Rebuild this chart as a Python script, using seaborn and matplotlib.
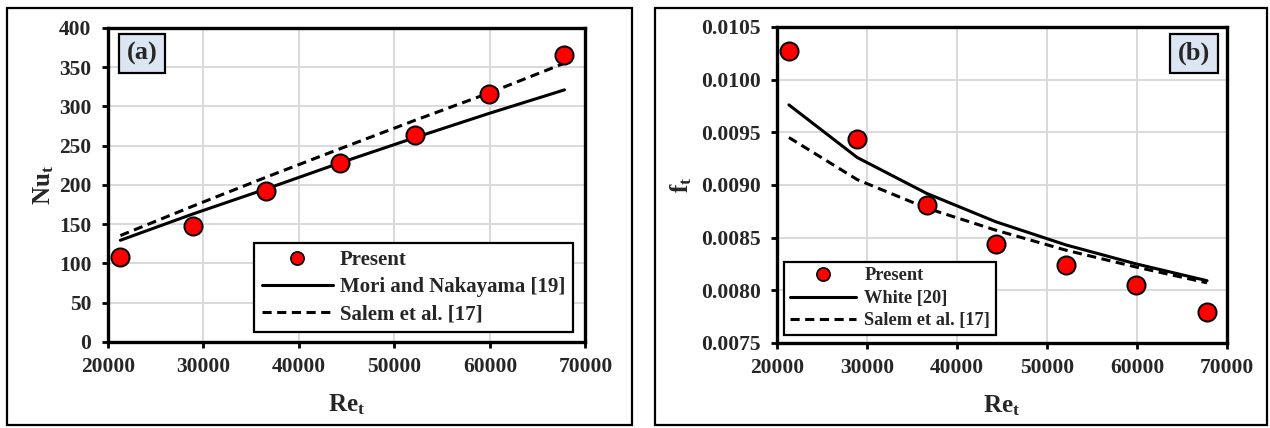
import numpy as np
import pandas as pd
import matplotlib
matplotlib.use("Agg")
import matplotlib.pyplot as plt
import seaborn as sns
from matplotlib.patches import Rectangle
from matplotlib.lines import Line2D

# data
re_t = [21300, 28900, 36600, 44300, 52100, 59900, 67800]

nu_present = [108, 148, 192, 228, 264, 316, 365]
nu_mori = [129.5, 163, 195, 228, 260, 291, 321]
nu_salem = [135.5, 173, 210, 246, 282, 317, 355]

f_present = [0.01027, 0.00944, 0.00881, 0.00844, 0.00824, 0.00805, 0.00779]
f_white = [0.00976, 0.00926, 0.00892, 0.00865, 0.00843, 0.00825, 0.00809]
f_salem = [0.00945, 0.00905, 0.00878, 0.00857, 0.00838, 0.00822, 0.00807]

sns.set_style("whitegrid")
plt.rcParams['font.family'] = ['Liberation Serif', 'DejaVu Serif']
plt.rcParams['font.weight'] = 'bold'
plt.rcParams['mathtext.fontset'] = 'custom'
plt.rcParams['mathtext.rm'] = 'Liberation Serif:bold'
plt.rcParams['mathtext.it'] = 'Liberation Serif:bold'
plt.rcParams['mathtext.bf'] = 'Liberation Serif:bold'

fig = plt.figure(figsize=(12.7, 4.28), dpi=100)
ax1 = fig.add_axes([0.085, 0.201, 0.376, 0.734])
ax2 = fig.add_axes([0.612, 0.199, 0.354, 0.738])

# panel frames
for x0, x1 in [(0.0055, 0.4976), (0.5157, 0.9976)]:
    fig.patches.append(Rectangle((x0, 0.007), x1 - x0, 0.974, transform=fig.transFigure,
                                 fill=False, edgecolor='black', linewidth=1.6))

dash = (0, (3, 1.8))


def style_axis(ax, letter, lx, ly, ypad):
    ax.set_xlim(20000, 70000)
    ax.set_xticks(np.arange(20000, 70001, 10000))
    ax.grid(True, color='#d9d9d9', linewidth=1.4)
    ax.set_axisbelow(True)
    for s in ax.spines.values():
        s.set_color('black')
        s.set_linewidth(2.4)
    ax.tick_params(axis='both', direction='out', length=4, width=2, color='black',
                   labelsize=15.5, left=True, bottom=True)
    ax.tick_params(axis='x', pad=7)
    ax.tick_params(axis='y', pad=8)
    for lab in ax.get_xticklabels() + ax.get_yticklabels():
        lab.set_fontweight('bold')
    ax.set_xlabel('Re$_\\mathrm{t}$', fontsize=18, fontweight='bold', labelpad=11)
    ax.yaxis.labelpad = ypad
    ax.text(lx, ly, letter, transform=ax.transAxes, fontsize=19, fontweight='bold',
            ha='center', va='center',
            bbox=dict(boxstyle='square,pad=0.3', facecolor='#dce6f2', edgecolor='black', linewidth=1.6))


def legend_handles():
    return [Line2D([], [], marker='o', color='none', markerfacecolor='#ff0000', markeredgecolor='black',
                   markersize=9.5, markeredgewidth=1.2),
            Line2D([], [], color='black', linewidth=2.2),
            Line2D([], [], color='black', linewidth=2.2, linestyle=dash)]


# (a) Nusselt number
sns.lineplot(x=re_t, y=nu_mori, ax=ax1, color='black', linewidth=2.2, label='Mori and Nakayama [19]')
sns.lineplot(x=re_t, y=nu_salem, ax=ax1, color='black', linewidth=2.2, linestyle=dash, label='Salem et al. [17]')
sns.scatterplot(x=re_t, y=nu_present, ax=ax1, color='#ff0000', edgecolor='black', linewidth=1.4,
                s=170, zorder=5, label='Present')
ax1.set_ylim(0, 400)
ax1.set_yticks(np.arange(0, 401, 50))
ax1.set_ylabel('Nu$_\\mathrm{t}$', fontsize=18, fontweight='bold')
style_axis(ax1, '(a)', 0.071, 0.917, 2)

leg1 = ax1.legend(legend_handles(), ['Present', 'Mori and Nakayama [19]', 'Salem et al. [17]'],
                  loc='lower right', bbox_to_anchor=(0.973, 0.032), borderaxespad=0,
                  fancybox=False, framealpha=1, edgecolor='black', handlelength=3.4,
                  handletextpad=0.35, prop={'size': 15, 'weight': 'bold'},
                  labelspacing=0.35, borderpad=0.35)
leg1.get_frame().set_linewidth(1.6)

# (b) friction factor
sns.lineplot(x=re_t, y=f_white, ax=ax2, color='black', linewidth=2.2, label='White [20]')
sns.lineplot(x=re_t, y=f_salem, ax=ax2, color='black', linewidth=2.2, linestyle=dash, label='Salem et al. [17]')
sns.scatterplot(x=re_t, y=f_present, ax=ax2, color='#ff0000', edgecolor='black', linewidth=1.4,
                s=170, zorder=5, label='Present')
ax2.set_ylim(0.0075, 0.0105)
ax2.set_yticks(np.arange(0.0075, 0.01051, 0.0005))
ax2.yaxis.set_major_formatter(matplotlib.ticker.FormatStrFormatter('%.4f'))
ax2.set_ylabel('f$_\\mathrm{t}$', fontsize=18, fontweight='bold')
style_axis(ax2, '(b)', 0.928, 0.916, 5)

leg2 = ax2.legend(legend_handles(), ['Present', 'White [20]', 'Salem et al. [17]'],
                  loc='lower left', bbox_to_anchor=(0.016, 0.025), borderaxespad=0,
                  fancybox=False, framealpha=1, edgecolor='black', handlelength=3.6,
                  handletextpad=0.45, prop={'size': 13.2, 'weight': 'bold'},
                  labelspacing=0.3, borderpad=0.3)
leg2.get_frame().set_linewidth(1.6)

fig.savefig('out.png', dpi=100)
